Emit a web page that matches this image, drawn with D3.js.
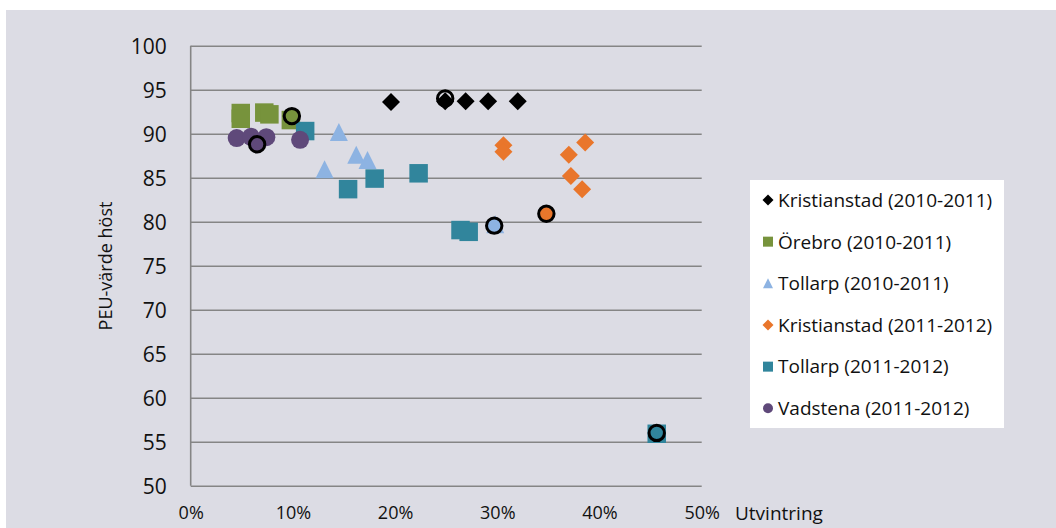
<!DOCTYPE html>
<html>
<head>
<meta charset="utf-8">
<script src="https://cdn.jsdelivr.net/npm/d3@7"></script>
<style>
  body { margin: 0; background: #fff; }
  text { font-family: "Open Sans", "Noto Sans", sans-serif; fill: #111; }
</style>
</head>
<body>
<div id="chart"></div>
<script>
// values: [utvintring (fraction), PEU-värde höst]
const kristianstad1011 = [[0.196, 93.6], [0.249, 93.7], [0.269, 93.7], [0.291, 93.7], [0.320, 93.7]];
const orebro1011 = [[0.049, 92.35], [0.049, 91.7], [0.072, 92.4], [0.077, 92.2], [0.098, 91.55]];
const tollarp1011 = [[0.145, 90.2], [0.162, 87.6], [0.173, 87.0], [0.131, 85.95], [0.298, 79.7]];
const kristianstad1112 = [[0.306, 88.7], [0.306, 87.95], [0.386, 89.0], [0.370, 87.6], [0.372, 85.2], [0.383, 83.7]];
const tollarp1112 = [[0.112, 90.3], [0.154, 83.7], [0.180, 84.9], [0.223, 85.5], [0.264, 79.05], [0.272, 78.85], [0.456, 55.9]];
const vadstena1112 = [[0.045, 89.5], [0.059, 89.65], [0.074, 89.6], [0.107, 89.3]];
// ringed points: [x, y, series index]
const ringed = [[0.249, 94.0, 0], [0.099, 92.0, 1], [0.297, 79.55, 2], [0.348, 80.9, 3], [0.456, 56.0, 4], [0.065, 88.8, 5]];

const seriesNames = ["Kristianstad (2010-2011)", "Örebro (2010-2011)", "Tollarp (2010-2011)",
                     "Kristianstad (2011-2012)", "Tollarp (2011-2012)", "Vadstena (2011-2012)"];
const seriesData = [kristianstad1011, orebro1011, tollarp1011, kristianstad1112, tollarp1112, vadstena1112];
const seriesColors = ["#000000", "#77933c", "#8db3e2", "#e9762b", "#31859c", "#5f497a"];
const seriesShapes = ["diamond", "square", "triangle", "diamond", "square", "circle"];

const yTicks = [50, 55, 60, 65, 70, 75, 80, 85, 90, 95, 100];
const xTicks = [0, 0.1, 0.2, 0.3, 0.4, 0.5];

const W = 1056, H = 528;

// shapes sized by their bounding box (size = side^2)
const shapes = {
  diamond: { draw(ctx, size) { const h = Math.sqrt(size) / 2; ctx.moveTo(0, -h); ctx.lineTo(h, 0); ctx.lineTo(0, h); ctx.lineTo(-h, 0); ctx.closePath(); } },
  square: { draw(ctx, size) { const h = Math.sqrt(size) / 2; ctx.rect(-h, -h, 2 * h, 2 * h); } },
  triangle: { draw(ctx, size) { const h = Math.sqrt(size) / 2; ctx.moveTo(0, -h); ctx.lineTo(h, h); ctx.lineTo(-h, h); ctx.closePath(); } },
  circle: { draw(ctx, size) { const r = Math.sqrt(size) / 2; ctx.moveTo(r, 0); ctx.arc(0, 0, r, 0, 2 * Math.PI); } }
};
const markSize = { diamond: 18, square: 18.5, triangle: 18, circle: 18 };

const svg = d3.select("#chart").append("svg")
    .attr("width", W).attr("height", H);

svg.append("rect").attr("x", 6).attr("y", 10).attr("width", W - 6).attr("height", H - 10)
    .attr("fill", "#dcdce4");

const x = d3.scaleLinear().domain([0, 0.5]).range([190.7, 701.7]);
const y = d3.scaleLinear().domain([50, 100]).range([485.7, 45.7]);

// y axis with gridlines
const yAxis = svg.append("g")
    .attr("transform", "translate(190.7,0)")
    .call(d3.axisLeft(y).tickValues(yTicks).tickSize(-(701.7 - 190.7)).tickPadding(24));
yAxis.select(".domain").remove();
yAxis.selectAll(".tick line").attr("stroke", "#858585").attr("stroke-width", 1.6);
yAxis.selectAll(".tick text").style("font-size", "21px").attr("dy", "0.36em");

svg.append("line")
    .attr("x1", x(0)).attr("x2", x(0)).attr("y1", y(100)).attr("y2", y(50))
    .attr("stroke", "#858585").attr("stroke-width", 1.6);

// x axis labels
const xAxis = svg.append("g")
    .attr("transform", "translate(0," + y(50) + ")")
    .call(d3.axisBottom(x).tickValues(xTicks).tickSize(0).tickFormat(d3.format(".0%")));
xAxis.select(".domain").remove();
xAxis.selectAll(".tick text").style("font-size", "18px").attr("y", 27).attr("dy", "0.36em");

svg.append("text")
    .attr("x", 735).attr("y", y(50) + 27).attr("dy", "0.36em")
    .style("font-size", "19px")
    .text("Utvintring");

svg.append("text")
    .attr("transform", "translate(106," + 266 + ") rotate(-90)")
    .attr("text-anchor", "middle").attr("dy", "0.36em")
    .style("font-size", "18px")
    .text("PEU-värde höst");

// points
seriesData.forEach(function(data, i) {
    const shape = seriesShapes[i];
    const sym = d3.symbol().type(shapes[shape]).size(markSize[shape] * markSize[shape]);
    svg.append("g").selectAll("path")
        .data(data)
        .enter()
        .append("path")
            .attr("transform", function(d) { return "translate(" + x(d[0]) + "," + y(d[1]) + ")"; })
            .attr("d", sym)
            .attr("fill", seriesColors[i]);
});

// ringed points on top
svg.append("g").selectAll("circle")
    .data(ringed)
    .enter()
    .append("circle")
        .attr("cx", function(d) { return x(d[0]); })
        .attr("cy", function(d) { return y(d[1]); })
        .attr("r", 7.7)
        .attr("fill", function(d) { return d[2] === 0 ? "none" : seriesColors[d[2]]; })
        .attr("stroke", "#000")
        .attr("stroke-width", 3);

// legend
const legend = svg.append("g");
legend.append("rect")
    .attr("x", 750).attr("y", 180).attr("width", 254).attr("height", 248)
    .attr("fill", "#fff");
const rowY = d3.scalePoint().domain(d3.range(seriesNames.length)).range([200, 408.3]);
seriesNames.forEach(function(name, i) {
    const shape = seriesShapes[i];
    const sym = d3.symbol().type(shapes[shape]).size(shape === "diamond" ? 121 : 100);
    legend.append("path")
        .attr("transform", "translate(768," + rowY(i) + ")")
        .attr("d", sym)
        .attr("fill", seriesColors[i]);
    legend.append("text")
        .attr("x", 778).attr("y", rowY(i)).attr("dy", "0.36em")
        .style("font-size", "19px")
        .text(name);
});
</script>
</body>
</html>
